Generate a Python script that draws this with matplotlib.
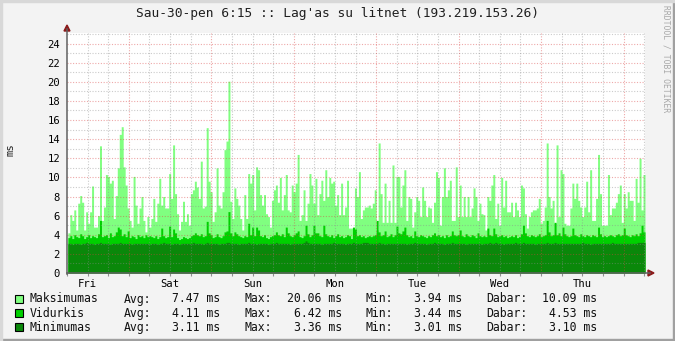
import matplotlib
matplotlib.use('Agg')
import matplotlib.pyplot as plt
import numpy as np
from matplotlib.patches import Polygon, Rectangle
from matplotlib.lines import Line2D

# ---------------- data ----------------
title = "Sau-30-pen 6:15 :: Lag'as su litnet (193.219.153.26)"
day_labels = ["Fri", "Sat", "Sun", "Mon", "Tue", "Wed", "Thu"]
start_hour = 6.25      # hours after first Friday 00:00
span_hours = 168.0

maks = [
    4.2, 6.1, 5.5, 6.6, 4.5, 7.3, 8.1, 7.4, 4.5, 6.4, 5.2, 6.4, 9.1, 4.8, 4.8, 6.0, 13.3, 5.5, 6.9, 10.3, 10.1,
    9.4, 9.7, 5.7, 8.1, 11.0, 14.5, 15.3, 11.1, 9.2, 6.8, 5.5, 4.8, 10.1, 7.1, 5.2, 6.8, 8.0, 5.5, 4.3, 5.9, 4.8,
    5.7, 7.8, 5.4, 7.3, 9.9, 7.1, 8.0, 6.8, 6.8, 10.4, 7.8, 13.4, 8.3, 6.2, 4.5, 5.4, 7.5, 5.4, 6.2, 5.0, 8.3,
    8.7, 9.6, 9.0, 7.8, 11.7, 6.8, 7.0, 15.2, 9.6, 8.5, 5.4, 6.4, 11.0, 7.1, 6.8, 8.5, 12.9, 13.8, 20.06, 7.5, 5.7,
    8.9, 7.8, 7.1, 5.7, 4.5, 8.2, 5.7, 10.4, 9.4, 10.3, 6.6, 11.1, 10.8, 8.2, 7.1, 8.2, 6.2, 5.9, 4.8, 7.6, 8.7,
    9.2, 7.4, 10.0, 6.6, 8.2, 10.3, 6.6, 6.4, 9.2, 8.5, 9.4, 12.4, 5.5, 6.1, 8.7, 5.5, 7.3, 10.4, 9.2, 7.3, 9.9,
    6.1, 8.3, 9.7, 7.6, 10.8, 8.0, 10.0, 9.4, 9.6, 7.1, 8.2, 6.1, 9.4, 6.1, 6.9, 9.7, 4.7, 4.7, 4.7, 8.9, 8.0,
    10.6, 5.7, 6.6, 6.9, 6.9, 7.1, 6.8, 7.3, 8.7, 4.5, 13.6, 8.3, 5.3, 9.4, 5.3, 7.6, 5.3, 11.3, 5.3, 10.1, 10.1,
    6.9, 9.2, 10.8, 5.5, 8.0, 7.8, 4.8, 6.4, 8.0, 7.6, 5.9, 9.0, 7.6, 5.9, 6.9, 6.8, 5.3, 7.4, 10.6, 10.0, 5.0,
    8.0, 11.0, 8.0, 8.7, 9.7, 5.5, 5.5, 11.1, 5.9, 9.2, 5.9, 8.0, 5.9, 8.0, 5.9, 6.8, 8.9, 8.0, 5.5, 7.3, 6.2,
    6.1, 4.5, 8.0, 7.6, 9.2, 10.3, 5.7, 7.3, 5.0, 10.0, 6.9, 9.7, 6.4, 6.4, 7.4, 5.9, 7.4, 6.6, 5.9, 9.2, 8.9,
    6.2, 4.7, 5.9, 6.4, 6.6, 6.6, 6.8, 7.8, 5.2, 5.5, 6.9, 13.6, 8.0, 6.8, 7.6, 5.2, 13.4, 5.9, 10.8, 10.4, 5.2,
    5.0, 5.0, 6.8, 9.4, 7.8, 9.4, 7.6, 6.9, 5.9, 6.9, 9.6, 6.4, 10.8, 5.5, 5.5, 7.8, 12.4, 8.3, 5.0, 5.0,
    5.0, 10.3, 6.1, 6.8, 6.8, 7.4, 8.3, 9.2, 5.3, 8.3, 6.8, 8.5, 7.6, 7.6, 5.5, 9.9, 7.4, 12.0, 6.6, 10.3,
]

vidurkis = [
    3.7, 3.9, 3.6, 4.0, 3.8, 3.7, 4.1, 3.9, 3.6, 3.8, 4.0, 3.7, 3.9, 3.8, 3.7, 4.1, 5.5, 3.8, 3.9, 4.0, 3.7,
    4.2, 3.8, 3.9, 4.3, 4.8, 4.6, 3.9, 4.1, 3.8, 4.4, 3.7, 3.9, 3.8, 3.6, 4.0, 3.8, 3.9, 3.7, 4.0, 3.8, 3.9,
    3.8, 3.7, 3.9, 3.6, 3.8, 4.7, 3.9, 3.7, 3.8, 4.9, 3.8, 4.6, 4.2, 3.7, 3.5, 3.6, 3.8, 3.7, 3.6, 3.7, 3.9,
    4.0, 4.2, 4.0, 3.9, 4.1, 3.8, 3.9, 5.4, 4.2, 4.0, 3.7, 3.8, 4.1, 3.8, 3.7, 3.9, 4.3, 4.4, 6.42, 4.2, 3.9,
    4.3, 4.1, 3.9, 3.8, 3.7, 3.9, 3.8, 5.2, 4.0, 4.8, 3.9, 4.8, 4.5, 3.9, 3.8, 4.0, 3.7, 3.6, 3.8, 3.9, 4.0,
    4.3, 4.0, 3.9, 4.1, 3.8, 4.8, 4.2, 3.9, 3.8, 4.0, 4.2, 4.4, 3.8, 3.7, 3.9, 5.0, 4.1, 3.8, 4.0, 5.0, 4.2,
    4.2, 3.9, 3.8, 5.0, 4.1, 3.9, 3.8, 4.0, 3.7, 3.9, 4.1, 3.8, 3.9, 3.7, 3.8, 4.0, 3.9, 3.6, 4.8, 4.6, 3.9,
    4.0, 3.8, 3.9, 3.7, 3.8, 3.9, 3.8, 3.9, 4.0, 5.5, 4.3, 3.9, 4.0, 4.4, 3.8, 3.9, 4.1, 3.8, 4.0, 4.9, 4.2,
    4.1, 4.4, 4.8, 4.0, 3.8, 3.9, 3.7, 4.4, 3.9, 3.8, 4.0, 3.9, 3.8, 3.7, 3.9, 3.8, 4.0, 4.2, 3.9, 4.0, 3.8,
    3.9, 3.7, 4.0, 3.8, 3.9, 4.4, 4.0, 3.9, 4.0, 4.5, 3.9, 3.8, 4.1, 3.9, 3.8, 4.0, 3.9, 3.7, 4.2, 3.9, 3.8,
    3.9, 3.8, 4.7, 4.0, 3.9, 4.7, 4.1, 3.8, 3.9, 4.0, 3.8, 3.9, 3.7, 3.8, 3.9, 3.8, 4.0, 3.7, 3.8, 4.1, 5.0,
    4.2, 3.9, 3.8, 4.0, 3.9, 3.8, 3.9, 4.1, 3.8, 3.9, 4.0, 5.5, 4.3, 3.9, 4.0, 5.3, 4.0, 4.2, 3.9, 4.8, 4.1,
    3.9, 3.8, 3.9, 4.7, 4.0, 3.9, 3.8, 4.1, 3.9, 3.8, 4.0, 3.9, 3.8, 4.0, 3.9, 3.8, 4.8, 4.1, 3.8, 3.9,
    3.8, 3.9, 4.0, 3.9, 3.8, 4.0, 4.1, 3.9, 4.0, 4.7, 4.0, 3.9, 3.8, 4.0, 3.9, 4.1, 3.9, 4.2, 5.0, 4.3,
]

minimumas = [
    3.1, 3.1, 3.0, 3.1, 3.1, 3.1, 3.0, 3.1, 3.1, 3.2, 3.1, 3.1, 3.1, 3.0, 3.1, 3.1, 3.2, 3.1, 3.1, 3.1, 3.1,
    3.0, 3.1, 3.1, 3.1, 3.1, 3.2, 3.1, 3.1, 3.1, 3.1, 3.1, 3.0, 3.1, 3.1, 3.1, 3.1, 3.1, 3.1, 3.1, 3.1, 3.0,
    3.1, 3.1, 3.1, 3.0, 3.1, 3.1, 3.2, 3.1, 3.1, 3.1, 3.0, 3.1, 3.1, 3.1, 3.0, 3.1, 3.1, 3.1, 3.1, 3.1, 3.1,
    3.2, 3.1, 3.1, 3.1, 3.1, 3.0, 3.1, 3.2, 3.1, 3.1, 3.1, 3.1, 3.1, 3.0, 3.1, 3.1, 3.1, 3.2, 3.2, 3.1, 3.1,
    3.1, 3.1, 3.0, 3.1, 3.1, 3.1, 3.1, 3.2, 3.1, 3.1, 3.1, 3.0, 3.1, 3.1, 3.1, 3.1, 3.1, 3.0, 3.1, 3.1, 3.1,
    3.2, 3.1, 3.1, 3.1, 3.1, 3.1, 3.1, 3.0, 3.1, 3.1, 3.1, 3.1, 3.1, 3.1, 3.2, 3.36, 3.2, 3.1, 3.1, 3.1, 3.1,
    3.1, 3.1, 3.0, 3.1, 3.1, 3.1, 3.1, 3.1, 3.2, 3.1, 3.1, 3.1, 3.1, 3.1, 3.0, 3.1, 3.1, 3.1, 3.2, 3.1, 3.1,
    3.1, 3.1, 3.2, 3.2, 3.2, 3.1, 3.1, 3.1, 3.1, 3.1, 3.2, 3.1, 3.1, 3.0, 3.1, 3.1, 3.1, 3.1, 3.1, 3.1, 3.1,
    3.1, 3.1, 3.1, 3.0, 3.1, 3.1, 3.1, 3.2, 3.1, 3.1, 3.1, 3.1, 3.1, 3.0, 3.1, 3.1, 3.1, 3.2, 3.1, 3.1, 3.1,
    3.1, 3.0, 3.1, 3.1, 3.1, 3.2, 3.1, 3.1, 3.1, 3.1, 3.1, 3.1, 3.0, 3.1, 3.1, 3.1, 3.1, 3.1, 3.1, 3.1, 3.0,
    3.1, 3.1, 3.1, 3.2, 3.1, 3.1, 3.2, 3.1, 3.1, 3.1, 3.0, 3.1, 3.1, 3.1, 3.1, 3.1, 3.2, 3.1, 3.1, 3.1, 3.2,
    3.1, 3.1, 3.1, 3.1, 3.1, 3.0, 3.1, 3.1, 3.1, 3.1, 3.1, 3.2, 3.1, 3.1, 3.1, 3.2, 3.1, 3.1, 3.1, 3.1, 3.1,
    3.1, 3.1, 3.1, 3.1, 3.1, 3.1, 3.1, 3.1, 3.2, 3.1, 3.1, 3.1, 3.0, 3.1, 3.1, 3.1, 3.1, 3.1, 3.1, 3.1,
    3.1, 3.1, 3.1, 3.2, 3.1, 3.1, 3.1, 3.1, 3.1, 3.1, 3.1, 3.1, 3.1, 3.1, 3.1, 3.1, 3.2, 3.2, 3.2, 3.2,
]

legend_names = ["Maksimumas", "Vidurkis", "Minimumas"]
stat_avg = ["7.47", "4.11", "3.11"]
stat_max = ["20.06", "6.42", "3.36"]
stat_min = ["3.94", "3.44", "3.01"]
stat_cur = ["10.09", "4.53", "3.10"]
colors = ["#80FF80", "#00D000", "#0A880A"]

# ---------------- figure ----------------
W, H = 675, 341
def fx(px): return px / W
def fy(py): return 1 - py / H

MONO = "DejaVu Sans Mono"
fig = plt.figure(figsize=(W / 100, H / 100), dpi=100)
fig.patch.set_facecolor("#F3F3F3")

ax = fig.add_axes([fx(67), fy(273), 578 / W, 240 / H])
ax.set_facecolor("white")

n = len(maks)
edges = start_hour + np.arange(n + 1) * (span_hours / n)
for series, c in zip([maks, vidurkis, minimumas], colors):
    y = np.append(np.array(series, float), series[-1])
    ax.fill_between(edges, 0, y, step="post", color=c, linewidth=0,
                    antialiased=False, zorder=2)

ax.set_xlim(start_hour, start_hour + span_hours)
ax.set_ylim(0, 25.1)

# grid
minor_c = (0.55, 0.55, 0.55, 0.45)
major_c = (0.85, 0.25, 0.25, 0.45)
for yv in range(1, 26):
    ax.axhline(yv, color=major_c if yv % 2 == 0 else minor_c, lw=0.8,
               ls=(0, (1, 1.5)), zorder=3)
for h in range(12, 175, 6):
    ax.axvline(h, color=major_c if h % 24 == 0 else minor_c, lw=0.8,
               ls=(0, (1, 1.5)), zorder=3)

ax.set_yticks(range(0, 25, 2))
ax.set_yticklabels([str(v) for v in range(0, 25, 2)], fontfamily=MONO, fontsize=7.6)
ax.set_xticks([12 + 24 * i for i in range(7)])
ax.set_xticklabels(day_labels, fontfamily=MONO, fontsize=7.6)
ax.set_xticks([h for h in range(6, 175, 6) if (h - 12) % 24 != 0], minor=True)
ax.tick_params(axis="y", length=0, pad=5)
ax.tick_params(axis="x", which="both", length=2, width=0.8, color="#909090", pad=2)

for s in ["top", "right", "left", "bottom"]:
    ax.spines[s].set_visible(False)

# axis lines with arrows
fig.add_artist(Line2D([fx(67), fx(67)], [fy(273.5), fy(29)], color="#606060", lw=1.1))
fig.add_artist(Line2D([fx(66.5), fx(650)], [fy(273), fy(273)], color="#606060", lw=1.1))
fig.add_artist(Polygon([[fx(64), fy(31)], [fx(70), fy(31)], [fx(67), fy(25)]],
                       closed=True, color="#8B1A1A", transform=fig.transFigure))
fig.add_artist(Polygon([[fx(648), fy(270)], [fx(648), fy(276)], [fx(654), fy(273)]],
                       closed=True, color="#8B1A1A", transform=fig.transFigure))

# texts
fig.text(fx(338), fy(13.5), title, ha="center", va="center", fontfamily=MONO,
         fontsize=9.3, color="#202020")
fig.text(fx(10), fy(150), "ms", rotation=90, ha="center", va="center",
         fontfamily=MONO, fontsize=7.6, color="#202020")
fig.text(fx(666), fy(5), "RRDTOOL / TOBI OETIKER", rotation=270, ha="center",
         va="top", fontfamily=MONO, fontsize=5.8, color="#A8A8A8")

rows_y = [299, 313.3, 327.3]
for i in range(3):
    yy = fy(rows_y[i])
    fig.add_artist(Rectangle((fx(15), fy(rows_y[i] + 4)), 8 / W, 8 / H,
                             facecolor=colors[i], edgecolor="black", lw=0.8,
                             transform=fig.transFigure))
    kw = dict(va="center", fontfamily=MONO, fontsize=8.3, color="#101010")
    fig.text(fx(30), yy, legend_names[i], ha="left", **kw)
    fig.text(fx(123.5), yy, "Avg:", ha="left", **kw)
    fig.text(fx(220.5), yy, stat_avg[i] + " ms", ha="right", **kw)
    fig.text(fx(244.5), yy, "Max:", ha="left", **kw)
    fig.text(fx(342), yy, stat_max[i] + " ms", ha="right", **kw)
    fig.text(fx(365.5), yy, "Min:", ha="left", **kw)
    fig.text(fx(462.5), yy, stat_min[i] + " ms", ha="right", **kw)
    fig.text(fx(486.5), yy, "Dabar:", ha="left", **kw)
    fig.text(fx(597.5), yy, stat_cur[i] + " ms", ha="right", **kw)

# image frame
fig.add_artist(Rectangle((0, 0), 1, 2 / H, color="#A0A0A0", transform=fig.transFigure))
fig.add_artist(Rectangle((1 - 2 / W, 0), 2 / W, 1, color="#A0A0A0", transform=fig.transFigure))
fig.add_artist(Rectangle((0, 1 - 2 / H), 1, 2 / H, color="#D8D8D8", transform=fig.transFigure))
fig.add_artist(Rectangle((0, 0), 2 / W, 1, color="#D8D8D8", transform=fig.transFigure))

fig.savefig("out.png", dpi=100, facecolor=fig.get_facecolor())
